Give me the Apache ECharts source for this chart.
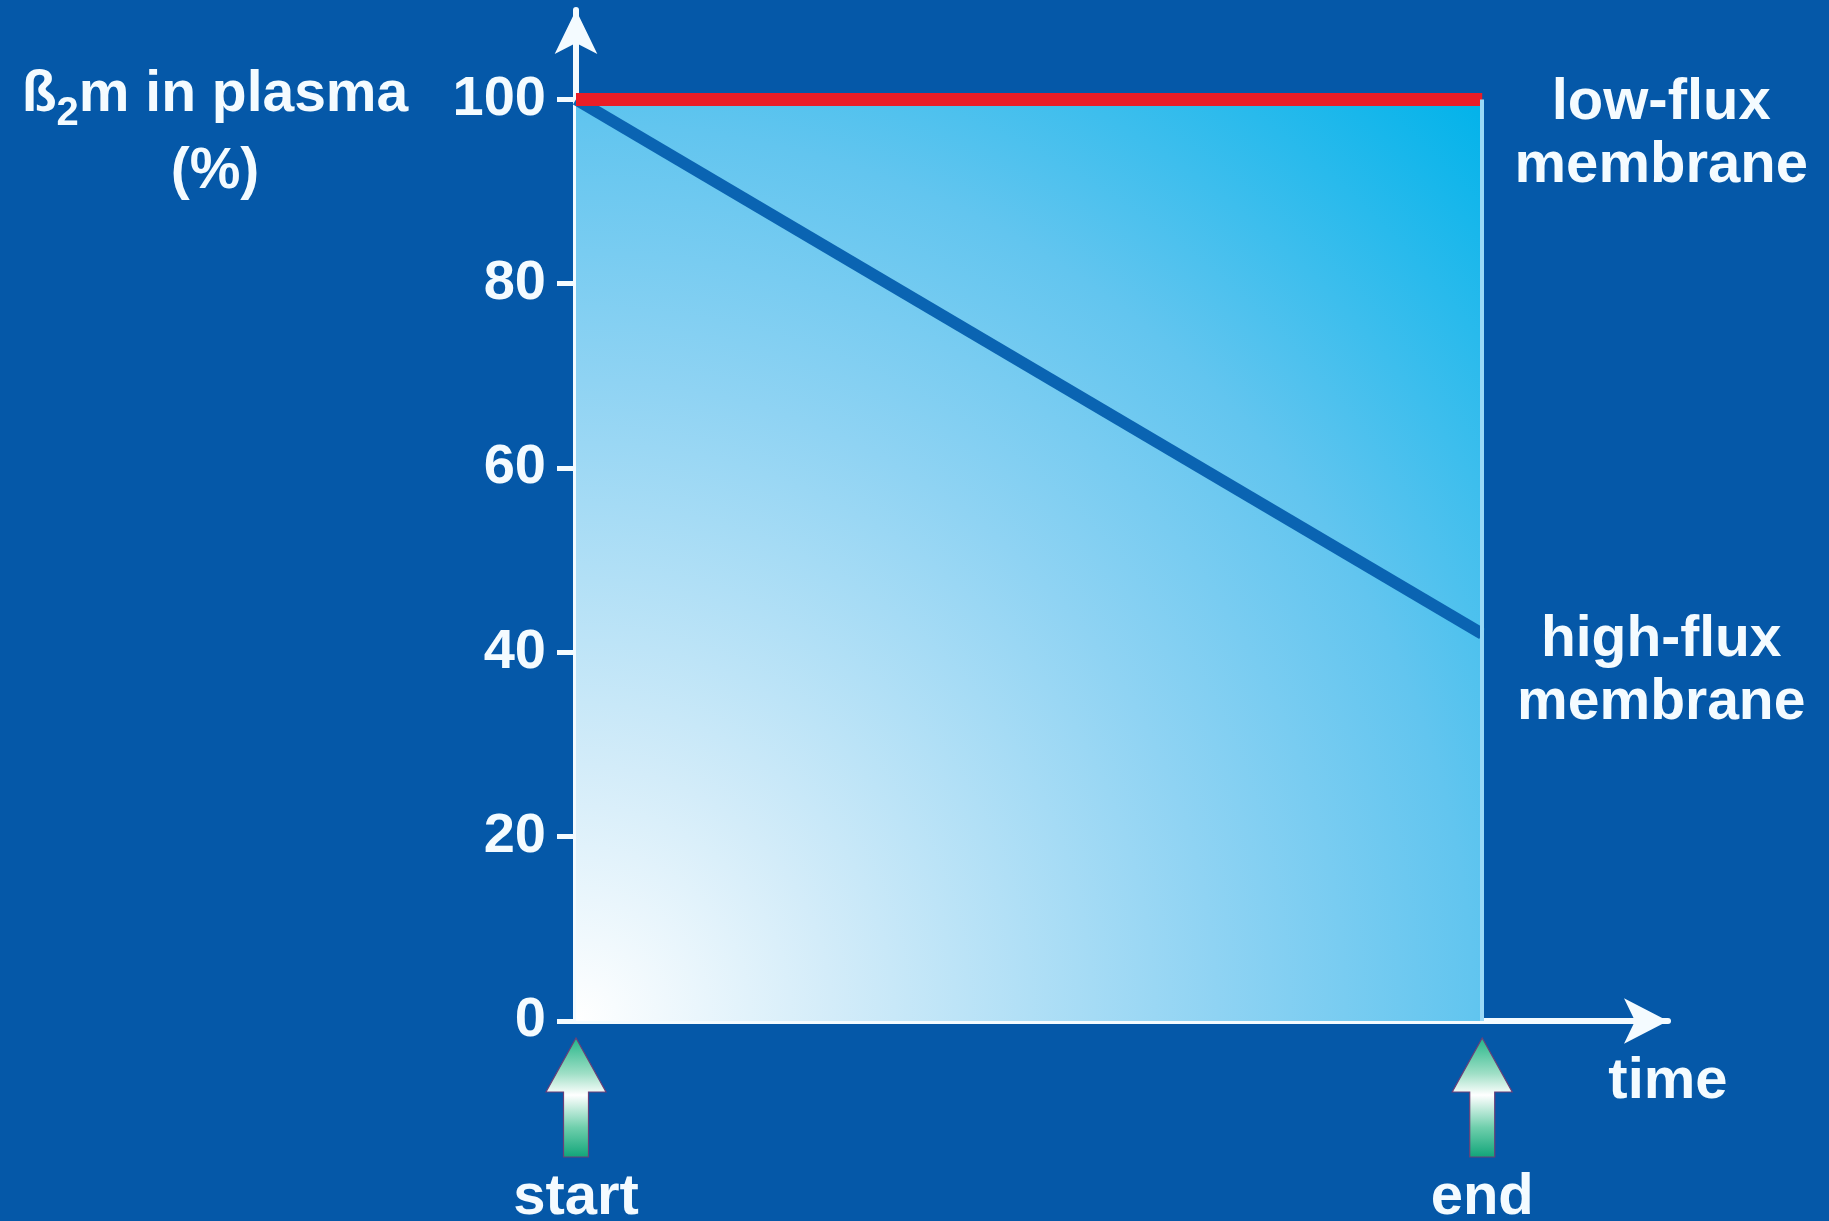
<!DOCTYPE html>
<html>
<head>
<meta charset="utf-8">
<title>β2m in plasma</title>
<script src="https://cdn.jsdelivr.net/npm/echarts@6/dist/echarts.min.js"></script>
<style>
  html, body { margin: 0; padding: 0; background: #0558a8; }
  #chart { width: 1829px; height: 1221px; }
</style>
</head>
<body>
<div id="chart"></div>
<script>
// Treatment time, normalised: 0 = start of session, 1 = end of session
const timePoints = [0, 1];
const timeLabels = ['start', 'end'];
// β2m remaining in plasma (%)
const lowFlux = [100, 100];
const highFlux = [100, 42];
// y-axis ticks
const yTicks = [0, 20, 40, 60, 80, 100];

const FONT = '"Liberation Sans", Arial, sans-serif';
const WHITE = '#f4fbff';

const chart = echarts.init(document.getElementById('chart'), null, { renderer: 'canvas' });

const pairs = (xs, ys) => xs.map((x, i) => [x, ys[i]]);

chart.setOption({
  backgroundColor: '#0558a8',
  animation: false,
  title: {
    left: 210,
    top: 52,
    textAlign: 'center',
    text: '{a|ß}{s|2}{a|m in plasma}\n{a|(%)}',
    textStyle: {
      rich: {
        a: { fontFamily: FONT, fontWeight: 'bold', fontSize: 57, color: WHITE, lineHeight: 77 },
        s: { fontFamily: FONT, fontWeight: 'bold', fontSize: 40, color: WHITE, lineHeight: 44, verticalAlign: 'bottom' }
      }
    }
  },
  grid: { left: 576, right: 161, top: 10, bottom: 200, outerBoundsMode: 'none' },
  xAxis: {
    type: 'value',
    min: 0,
    max: 1.205,
    name: 'time',
    nameLocation: 'end',
    nameGap: 0,
    nameTextStyle: {
      fontFamily: FONT, fontWeight: 'bold', fontSize: 58, color: WHITE,
      align: 'center', verticalAlign: 'top', lineHeight: 122
    },
    axisLine: {
      show: true,
      lineStyle: { color: WHITE, width: 6 },
      symbol: ['none', 'arrow'],
      symbolSize: [34, 44]
    },
    axisTick: { show: false },
    splitLine: { show: false },
    axisLabel: {
      customValues: timePoints,
      formatter: v => timeLabels[timePoints.indexOf(v)] || '',
      margin: 148,
      fontFamily: FONT, fontWeight: 'bold', fontSize: 58, color: WHITE
    }
  },
  yAxis: {
    type: 'value',
    min: 0,
    max: 109.7,
    axisLine: {
      show: true,
      lineStyle: { color: WHITE, width: 6 },
      symbol: ['none', 'arrow'],
      symbolSize: [32, 44]
    },
    axisTick: {
      show: true,
      customValues: yTicks,
      inside: false,
      length: 19,
      lineStyle: { color: WHITE, width: 5 }
    },
    splitLine: { show: false },
    axisLabel: {
      customValues: yTicks,
      margin: 30,
      fontFamily: FONT, fontWeight: 'bold', fontSize: 56, color: WHITE
    }
  },
  series: [
    {
      // gradient panel under the low-flux level, closed by the end-of-session edge
      name: 'panel',
      type: 'line',
      data: pairs(timePoints, lowFlux),
      showSymbol: false,
      silent: true,
      z: 1,
      lineStyle: { width: 0 },
      areaStyle: {
        opacity: 1,
        origin: 'start',
        color: {
          type: 'radial', x: 0, y: 1, r: 1.414,
          colorStops: [
            { offset: 0, color: '#ffffff' },
            { offset: 0.2, color: '#d3ecf9' },
            { offset: 0.5, color: '#8fd3f3' },
            { offset: 0.7, color: '#62c5ef' },
            { offset: 1, color: '#04b3ea' }
          ]
        }
      },
      markLine: {
        silent: true,
        symbol: ['none', 'none'],
        label: { show: false },
        lineStyle: { color: '#9ad9f6', width: 4, type: 'solid' },
        data: [[{ coord: [timePoints[1], 0] }, { coord: [timePoints[1], lowFlux[1]] }]]
      }
    },
    {
      name: 'high-flux membrane',
      type: 'line',
      data: pairs(timePoints, highFlux),
      showSymbol: false,
      z: 2,
      lineStyle: { color: '#0a64b2', width: 12, cap: 'butt' },
      endLabel: {
        show: true,
        formatter: 'high-flux\nmembrane',
        distance: 179,
        align: 'center',
        offset: [0, 38],
        fontFamily: FONT, fontWeight: 'bold', fontSize: 57, lineHeight: 63, color: WHITE
      }
    },
    {
      name: 'low-flux membrane',
      type: 'line',
      data: pairs(timePoints, lowFlux),
      showSymbol: false,
      z: 3,
      lineStyle: { color: '#ea1d27', width: 13, cap: 'butt' },
      endLabel: {
        show: true,
        formatter: 'low-flux\nmembrane',
        distance: 179,
        align: 'center',
        offset: [0, 35],
        fontFamily: FONT, fontWeight: 'bold', fontSize: 58, lineHeight: 63, color: WHITE
      }
    }
  ]
});

// Green up-arrows marking the start and end of the session, under the x axis
const arrowGradient = new echarts.graphic.LinearGradient(0, 0, 0, 1, [
  { offset: 0, color: '#22b587' },
  { offset: 0.3, color: '#9fdfc6' },
  { offset: 0.48, color: '#ffffff' },
  { offset: 0.75, color: '#6fcfac' },
  { offset: 1, color: '#10a478' }
]);
const arrows = timePoints.map(t => {
  const [px, py] = chart.convertToPixel({ xAxisIndex: 0, yAxisIndex: 0 }, [t, 0]);
  return {
    type: 'polygon',
    shape: {
      points: [
        [px, py + 17], [px + 30, py + 71], [px + 12.5, py + 71], [px + 12.5, py + 136],
        [px - 12.5, py + 136], [px - 12.5, py + 71], [px - 30, py + 71]
      ]
    },
    style: { fill: arrowGradient, stroke: '#6b3f78', lineWidth: 1.2 },
    z: 10
  };
});
chart.setOption({ graphic: arrows });
</script>
</body>
</html>
